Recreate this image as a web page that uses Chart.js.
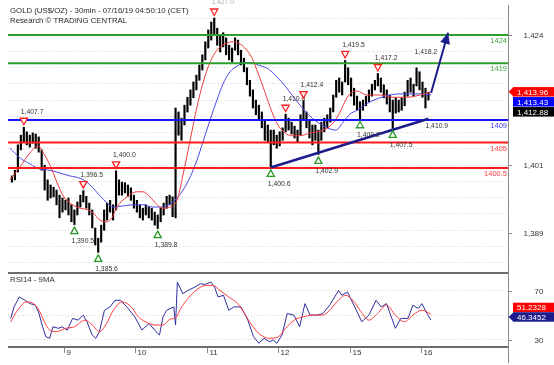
<!DOCTYPE html>
<html><head><meta charset="utf-8">
<script src="https://cdn.jsdelivr.net/npm/chart.js@4/dist/chart.umd.min.js"></script>
<style>
html,body{margin:0;padding:0;background:#fff;overflow:hidden}
#wrap{position:relative;width:554px;height:365px}
canvas{position:absolute;left:0}
#main{top:0}
#rsi{top:268px}
</style></head><body>
<div id="wrap">
<canvas id="main" width="554" height="282"></canvas>
<canvas id="rsi" width="554" height="97"></canvas>
</div>
<script>
// ---------- DATA ----------
const titleLines = ['GOLD (US$/OZ) - 30min - 07/16/19 04:50:10 (CET)', 'Research \u00a9 TRADING CENTRAL'];
// time axis in trading hours from 9 Jul 00:00 (weekend removed)
const dayTicks = [0, 24, 48, 72, 96, 120];
const dayLabels = ['9', '10', '11', '12', '15', '16'];

const barLows = [
1398.0,1398.4,1399.8,1403.7,1405.0,1404.6,1404.2,1404.9,1404.0,1403.3,
1400.1,1396.6,1394.8,1395.2,1395.4,1394.0,1391.7,1392.7,1393.1,1392.2,
1391.0,1390.5,1392.2,1393.6,1394.5,1393.4,1392.2,1389.9,1386.9,1385.6,
1387.4,1389.5,1391.3,1392.7,1391.3,1393.1,1395.7,1395.7,1396.1,1395.5,
1394.8,1393.4,1392.7,1391.7,1391.3,1392.2,1391.7,1391.3,1390.4,1389.8,
1391.0,1392.2,1393.4,1394.0,1391.9,1391.7,1406.3,1405.4,1408.1,1410.4,
1411.6,1412.9,1414.3,1416.0,1417.8,1419.6,1421.7,1423.1,1424.0,1422.2,
1421.0,1421.9,1420.5,1419.6,1419.2,1421.3,1420.5,1418.7,1417.5,1415.2,
1413.2,1411.1,1409.9,1409.0,1407.6,1405.4,1405.1,1400.6,1404.6,1404.0,
1404.4,1405.4,1406.9,1407.2,1406.5,1405.8,1405.1,1406.3,1409.0,1407.6,
1405.8,1404.6,1405.4,1402.9,1405.4,1406.9,1407.6,1408.6,1410.4,1413.0,
1413.9,1413.4,1415.7,1415.2,1413.2,1411.6,1410.7,1409.2,1410.7,1411.5,
1412.2,1413.2,1414.3,1415.0,1413.9,1412.9,1411.8,1410.4,1407.5,1410.2,
1410.4,1410.7,1411.5,1413.2,1413.9,1413.2,1415.0,1414.3,1413.0,1411.1,
1412.5];
const barHighs = [
1399.1,1400.1,1404.6,1406.3,1407.7,1406.9,1406.3,1406.7,1406.5,1406.0,
1403.7,1401.0,1398.4,1397.5,1397.1,1396.6,1395.7,1395.2,1394.8,1395.2,
1394.0,1393.1,1394.5,1395.7,1396.5,1395.5,1394.3,1393.1,1389.9,1388.1,
1390.4,1393.1,1394.3,1394.8,1394.0,1400.0,1398.4,1398.0,1397.9,1397.5,
1397.0,1395.7,1394.8,1394.0,1393.4,1394.0,1393.6,1393.4,1392.7,1392.2,
1393.4,1394.3,1395.5,1395.7,1395.4,1411.1,1410.4,1409.3,1411.6,1413.0,
1414.3,1415.7,1416.9,1418.7,1420.5,1422.8,1424.9,1426.3,1427.0,1425.2,
1424.0,1424.4,1423.5,1422.2,1421.7,1423.5,1423.1,1421.3,1419.9,1418.2,
1416.0,1414.3,1412.5,1411.6,1410.4,1409.0,1408.1,1407.2,1407.2,1406.3,
1406.9,1407.6,1410.0,1409.3,1408.6,1407.9,1407.2,1409.9,1412.4,1410.4,
1409.0,1408.1,1408.1,1407.2,1408.6,1409.3,1409.9,1411.1,1413.4,1416.0,
1416.4,1415.7,1419.5,1418.2,1416.4,1414.6,1413.2,1412.2,1412.5,1413.2,
1414.3,1415.3,1416.0,1417.2,1416.4,1415.2,1414.3,1413.4,1412.5,1412.9,
1412.5,1412.9,1413.9,1416.0,1416.4,1415.3,1418.2,1417.5,1415.7,1414.6,
1413.9];
// hourly bar times (hours from 9 Jul 00:00)
const barTimes = barLows.map((_, i) => -17.5 + i);

const redMaTimes = [-18.2,-14.8,-11.4,-8.7,-7.1,-4.7,-2.4,-0.3,2.0,5.4,8.1,9.7,12.1,14.5,16.1,17.8,21.2,24.5,26.6,28.9,31.3,33.3,35.6,38.0,40.0,42.4,44.7,46.7,49.1,51.4,53.4,56.5,58.5,60.8,63.2,65.2,67.6,69.9,71.9,74.3,76.6,79.3,82.7,86.1,89.4,92.1,94.5,96.1,98.5,101.8,106.2,110.6,115.3,119.7,123.4];
const redMaValues = [1398.4,1400.7,1403.2,1404.4,1403.3,1401.0,1398.0,1395.6,1394.3,1393.4,1393.1,1392.6,1391.3,1391.0,1391.7,1393.6,1395.4,1396.3,1396.3,1395.4,1394.0,1393.4,1393.6,1394.8,1399.3,1405.4,1411.3,1415.5,1419.2,1421.3,1422.2,1422.8,1422.6,1421.7,1419.9,1417.3,1413.8,1410.4,1408.1,1406.7,1406.2,1406.2,1406.7,1407.0,1407.9,1409.7,1412.3,1413.6,1414.1,1413.4,1413.4,1413.0,1413.0,1413.4,1413.96];
const blueMaTimes = [-18.2,-14.8,-11.4,-8.1,-4.7,-1.3,2.0,5.4,7.7,9.7,12.1,14.5,16.5,19.8,23.2,26.6,29.9,33.3,36.6,38.0,40.0,42.4,44.7,46.7,49.1,51.4,53.4,55.8,58.2,60.2,63.2,65.2,67.6,69.9,71.9,74.3,76.6,78.7,81.0,83.4,86.1,89.4,91.4,93.8,96.1,98.5,102.9,106.2,109.6,112.9,116.3,119.7,123.4];
const blueMaValues = [1404.0,1402.3,1401.2,1400.3,1400.1,1399.6,1399.1,1398.7,1398.0,1397.0,1395.6,1394.3,1393.6,1393.8,1394.0,1394.0,1393.6,1393.6,1394.5,1395.2,1396.6,1398.9,1401.9,1405.1,1409.0,1412.5,1415.3,1417.5,1418.5,1419.1,1419.1,1418.7,1418.3,1417.5,1416.4,1415.0,1413.4,1412.0,1410.6,1409.3,1408.3,1407.4,1407.2,1408.6,1410.0,1410.7,1412.2,1412.9,1413.4,1413.6,1413.6,1413.6,1413.43];

const levels = [1424, 1419, 1409, 1405, 1400.5];
const peakTimes = [-13.5, 6.5, 17.5, 50.5, 74.5, 80.5, 94.5, 105.5];
const peakValues = [1407.7, 1396.5, 1400.0, 1427.0, 1410.0, 1412.4, 1419.5, 1417.2];
const troughTimes = [3.5, 11.5, 31.5, 69.5, 85.5, 99.5, 110.5];
const troughValues = [1390.5, 1385.6, 1389.8, 1400.6, 1402.9, 1409.2, 1407.5];
const noteTimes = [118.5];
const noteValues = [1418.2];
const trendTimes = [69.5, 122.5];
const trendValues = [1400.6, 1409.2];
const trendEndLabel = 1410.9;
const arrowTimes = [123.4, 129.1];
const arrowValues = [1413.8, 1424.4];
const priceTickValues = [1424, 1401, 1389];
const lastValues = [1413.96, 1413.43, 1412.88];

const rsiTimes = [-17.9,-16.8,-15.0,-13.1,-11.4,-9.6,-8.4,-7.2,-6.1,-4.8,-3.7,-1.8,-0.7,1.1,2.9,4.7,6.5,7.7,9.5,10.7,11.9,13.6,15.5,17.1,19.0,21.4,23.8,26.2,28.6,30.9,32.1,33.3,34.5,36.9,37.5,38.1,39.9,41.7,44.0,45.8,47.6,49.4,50.6,51.8,53.6,55.4,57.1,59.5,61.8,63.7,65.5,67.2,69.1,70.3,71.5,73.3,75.0,77.3,79.2,81.0,82.7,85.0,87.0,89.3,92.3,93.4,95.3,97.7,100.1,102.5,104.9,106.6,108.4,110.2,111.4,113.2,115.6,117.3,119.1,120.3,122.0,123.3];
const rsiValues = [47.6,57,65.1,62.4,59.7,58.4,51.6,40.8,32.7,31.4,40.8,39.5,40.8,38.1,47.6,46.2,50.3,44.9,34.1,31.4,36.8,54.3,57,62.4,62.4,56.2,48.9,38.1,43.5,36.8,34.1,48.9,54.3,57,42.2,77.3,67.8,70.5,73.2,75.9,75.4,77.3,73.2,65.1,66.5,54.3,57,57,46.2,32.7,27.3,31.4,28.6,30,27.3,34.1,51.6,50.3,40.8,59.7,50.3,50.3,51.6,58.4,70.5,66.5,69.2,57,44.9,50.3,62.4,57,59.7,47.6,39.5,47.6,47.6,58.4,55.7,59.7,51.6,46.3];
const rsiMaTimes = [-17.9,-15.6,-12.6,-10.2,-8.4,-6.6,-4.8,-2.5,0.5,3.5,7.1,9.5,11.9,14.3,16.6,19.6,22.6,25.0,27.4,30.9,33.3,35.7,37.5,39.3,41.7,44.6,47.6,50.0,52.4,55.4,58.4,60.7,63.1,66.1,69.1,72.1,74.5,77.4,80.4,83.4,87.0,89.3,91.7,94.7,97.1,99.5,102.5,105.4,108.4,111.4,114.4,117.3,120.3,123.3];
const rsiMaValues = [44.9,54.3,61.1,59.7,54.3,44.9,38.1,36.8,39.5,40.8,46.2,42.2,36.8,43.5,54.3,61.1,57,48.9,44.9,42.2,42.2,47,48,56,64,71,74.6,74.6,70.5,65.1,59.7,51.6,42.2,34.1,31.4,32.7,39.5,46.2,48.9,50.3,50.3,54.3,61.1,66.5,62.4,54.3,46.2,51.6,58.4,50.3,44.9,50.3,54.3,51.2];
const rsiTickValues = [70, 30];
const rsiLastValues = [51.2328, 46.3452];

// ---------- HELPERS ----------
const F = '"Liberation Sans", Arial, sans-serif';
const X_MIN = -18.82, X_MAX = 149.24;
function fmt(v, d) {
  const s = v.toFixed(d).split('.');
  return s[0].replace(/\B(?=(\d{3})+(?!\d))/g, ',') + (s[1] ? '.' + s[1] : '');
}
function pts(ts, vs) { return ts.map((t, i) => ({x: t, y: vs[i]})); }
const fixW = s => { s.width = 46; };

const GREEN = '#2f9e2f', RED = '#ff1a1a', BLUE = '#1414ff', NAVY = '#1c1c8c';
const levelColors = [GREEN, GREEN, BLUE, RED, RED];
const levelTextColors = ['#3f9f3f', '#3f9f3f', '#3a3aff', '#ff3a3a', '#ff3a3a'];

function box(ctx, cy, color, text, pointer) {
  ctx.fillStyle = color;
  ctx.fillRect(513, cy - 4.75, 41, 9.5);
  if (pointer) {
    ctx.beginPath(); ctx.moveTo(508.5, cy); ctx.lineTo(513.5, cy - 4.75); ctx.lineTo(513.5, cy + 4.75); ctx.closePath(); ctx.fill();
  }
  ctx.fillStyle = '#fff'; ctx.font = '8px ' + F; ctx.textAlign = 'left'; ctx.textBaseline = 'middle';
  ctx.fillText(text, 517, cy + 0.5);
}
function tri(ctx, cx, cy, down, color) {
  ctx.beginPath();
  if (down) { ctx.moveTo(cx - 3.6, cy - 3); ctx.lineTo(cx + 3.6, cy - 3); ctx.lineTo(cx, cy + 3.5); }
  else { ctx.moveTo(cx - 3.6, cy + 3); ctx.lineTo(cx + 3.6, cy + 3); ctx.lineTo(cx, cy - 3.5); }
  ctx.closePath();
  ctx.fillStyle = '#fff'; ctx.fill();
  ctx.strokeStyle = color; ctx.lineWidth = 1.3; ctx.stroke();
}

// ---------- MAIN CHART ----------
const mainDecor = {
  id: 'mainDecor',
  afterDraw(chart) {
    const {ctx} = chart; const x = chart.scales.x, y = chart.scales.y;
    ctx.save();
    ctx.textBaseline = 'middle';
    // title
    ctx.fillStyle = '#2a2a2a'; ctx.font = '7.8px ' + F; ctx.textAlign = 'left';
    ctx.fillText(titleLines[0], 10, 10.5);
    ctx.fillText(titleLines[1], 10, 20.5);
    // level labels
    ctx.font = '7.5px ' + F; ctx.textAlign = 'right';
    levels.forEach((v, i) => { ctx.fillStyle = levelTextColors[i]; ctx.fillText(String(v), 507, y.getPixelForValue(v) + 6); });
    // peak / trough markers
    ctx.font = '6.8px ' + F; ctx.textAlign = 'left';
    peakTimes.forEach((t, i) => {
      const cx = x.getPixelForValue(t), cy = y.getPixelForValue(peakValues[i]) - 6;
      tri(ctx, cx, cy, true, '#ff2020');
      ctx.fillStyle = cy < 16 ? '#b0b0b0' : '#333';
      ctx.fillText(fmt(peakValues[i], 1), cx - 3, cy - 9.5);
    });
    troughTimes.forEach((t, i) => {
      const cx = x.getPixelForValue(t), cy = y.getPixelForValue(troughValues[i]) + 6;
      tri(ctx, cx, cy, false, '#2a9a2a');
      ctx.fillStyle = '#333';
      ctx.fillText(fmt(troughValues[i], 1), cx - 3, cy + 10.5);
    });
    noteTimes.forEach((t, i) => {
      ctx.fillStyle = '#333';
      ctx.fillText(fmt(noteValues[i], 1), x.getPixelForValue(t) - 2, y.getPixelForValue(noteValues[i]) - 15.5);
    });
    ctx.fillStyle = '#333';
    ctx.fillText(fmt(trendEndLabel, 1), x.getPixelForValue(trendTimes[1]) - 3, y.getPixelForValue(trendValues[1]) + 7);
    // arrow head
    const ax0 = x.getPixelForValue(arrowTimes[0]), ay0 = y.getPixelForValue(arrowValues[0]);
    const ax1 = x.getPixelForValue(arrowTimes[1]), ay1 = y.getPixelForValue(arrowValues[1]);
    const ang = Math.atan2(ay1 - ay0, ax1 - ax0);
    ctx.fillStyle = NAVY; ctx.beginPath();
    ctx.moveTo(ax1, ay1);
    ctx.lineTo(ax1 - 11 * Math.cos(ang) + 5 * Math.sin(ang), ay1 - 11 * Math.sin(ang) - 5 * Math.cos(ang));
    ctx.lineTo(ax1 - 11 * Math.cos(ang) - 5 * Math.sin(ang), ay1 - 11 * Math.sin(ang) + 5 * Math.cos(ang));
    ctx.closePath(); ctx.fill();
    // right axis line and labels
    ctx.strokeStyle = '#8a8a8a'; ctx.lineWidth = 1;
    ctx.beginPath(); ctx.moveTo(508.5, 5); ctx.lineTo(508.5, 268); ctx.stroke();
    ctx.font = '8px ' + F; ctx.textAlign = 'right'; ctx.fillStyle = '#333';
    priceTickValues.forEach(v => {
      const py = Math.round(y.getPixelForValue(v)) + 0.5;
      ctx.beginPath(); ctx.moveTo(508, py); ctx.lineTo(512, py); ctx.stroke();
      ctx.fillText(fmt(v, 0), 543.5, py);
    });
    // last value boxes
    const c0 = y.getPixelForValue(lastValues[0]);
    box(ctx, c0, '#ff0000', fmt(lastValues[0], 2), true);
    box(ctx, c0 + 10, '#0000ff', fmt(lastValues[1], 2), false);
    box(ctx, c0 + 20, '#000000', fmt(lastValues[2], 2), false);
    ctx.restore();
  }
};

const gridVals = [];
for (let v = 1424 + 2.875; v > 1383; v -= 2.875) gridVals.push(v);

new Chart(document.getElementById('main'), {
  type: 'bar',
  data: {
    datasets: [
      {type: 'line', data: pts(trendTimes, trendValues), borderColor: NAVY, borderWidth: 2.5, pointRadius: 0, order: 1},
      {type: 'line', data: pts(arrowTimes, arrowValues), borderColor: NAVY, borderWidth: 2, pointRadius: 0, order: 1},
      ...levels.map((v, i) => ({type: 'line', data: [{x: X_MIN, y: v}, {x: X_MAX, y: v}], borderColor: levelColors[i], borderWidth: 2, pointRadius: 0, order: 3})),
      {type: 'line', data: pts(redMaTimes, redMaValues), borderColor: '#f23a3a', borderWidth: 1, pointRadius: 0, cubicInterpolationMode: 'monotone', order: 5},
      {type: 'line', data: pts(blueMaTimes, blueMaValues), borderColor: '#4a4ae6', borderWidth: 1, pointRadius: 0, cubicInterpolationMode: 'monotone', order: 5},
      {type: 'bar', data: barTimes.map((t, i) => ({x: t, y: [barLows[i], barHighs[i]]})), backgroundColor: '#000', barThickness: 1.5, grouped: false, order: 10}
    ]
  },
  options: {
    responsive: false, animation: false, devicePixelRatio: 1,
    layout: {padding: {left: 8, top: 5, right: 0, bottom: 18}},
    plugins: {legend: {display: false}, tooltip: {enabled: false}},
    scales: {
      x: {type: 'linear', min: X_MIN, max: X_MAX, offset: false, display: false},
      y: {type: 'linear', position: 'right', min: 1383.54, max: 1429.30, afterFit: fixW,
          afterBuildTicks: s => { s.ticks = gridVals.map(v => ({value: v})); },
          ticks: {display: false}, grid: {color: '#d4d4d4', drawTicks: false, lineWidth: 1},
          border: {display: false, dash: [1, 2]}}
    }
  },
  plugins: [mainDecor]
});

// ---------- RSI CHART ----------
const rsiDecor = {
  id: 'rsiDecor',
  afterDraw(chart) {
    const {ctx} = chart; const x = chart.scales.x, y = chart.scales.y;
    ctx.save();
    ctx.strokeStyle = '#6e6e6e'; ctx.lineWidth = 2;
    ctx.beginPath(); ctx.moveTo(8, 5); ctx.lineTo(508, 5); ctx.moveTo(8, 79); ctx.lineTo(508, 79); ctx.stroke();
    ctx.strokeStyle = '#8a8a8a'; ctx.lineWidth = 1;
    ctx.beginPath(); ctx.moveTo(508.5, 0); ctx.lineTo(508.5, 95); ctx.stroke();
    ctx.textBaseline = 'middle';
    ctx.fillStyle = '#333'; ctx.font = '7.8px ' + F; ctx.textAlign = 'left';
    ctx.fillText('RSI14 - 9MA', 10, 11.5);
    // x ticks
    ctx.font = '8px ' + F;
    dayTicks.forEach((t, i) => {
      const px = Math.round(x.getPixelForValue(t)) + 0.5;
      ctx.beginPath(); ctx.moveTo(px, 80); ctx.lineTo(px, 85); ctx.stroke();
      ctx.fillText(dayLabels[i], px + 2, 84.5);
    });
    ctx.textAlign = 'right';
    rsiTickValues.forEach(v => {
      const py = Math.round(y.getPixelForValue(v)) + 0.5;
      ctx.beginPath(); ctx.moveTo(508, py); ctx.lineTo(512, py); ctx.stroke();
      ctx.fillText(String(v), 543.5, py);
    });
    const c1 = y.getPixelForValue(rsiLastValues[1]) - 3;
    box(ctx, c1 - 9.5, '#ff0000', fmt(rsiLastValues[0], 4), false);
    box(ctx, c1, NAVY, fmt(rsiLastValues[1], 4), true);
    ctx.restore();
  }
};

new Chart(document.getElementById('rsi'), {
  type: 'line',
  data: {
    datasets: [
      {data: pts(rsiMaTimes, rsiMaValues), borderColor: '#ff3c3c', borderWidth: 1, pointRadius: 0, cubicInterpolationMode: 'monotone'},
      {data: pts(rsiTimes, rsiValues), borderColor: '#2e2e9e', borderWidth: 1, pointRadius: 0, tension: 0}
    ]
  },
  options: {
    responsive: false, animation: false, devicePixelRatio: 1,
    layout: {padding: {left: 8, top: 5, right: 0, bottom: 18}},
    plugins: {legend: {display: false}, tooltip: {enabled: false}},
    scales: {
      x: {type: 'linear', min: X_MIN, max: X_MAX, offset: false, display: false},
      y: {type: 'linear', position: 'right', min: 24.28, max: 84.69, afterFit: fixW,
          afterBuildTicks: s => { s.ticks = [30, 50, 70].map(v => ({value: v})); },
          ticks: {display: false}, grid: {color: '#d4d4d4', drawTicks: false},
          border: {display: false, dash: [1, 2]}}
    }
  },
  plugins: [rsiDecor]
});
</script>
</body></html>
